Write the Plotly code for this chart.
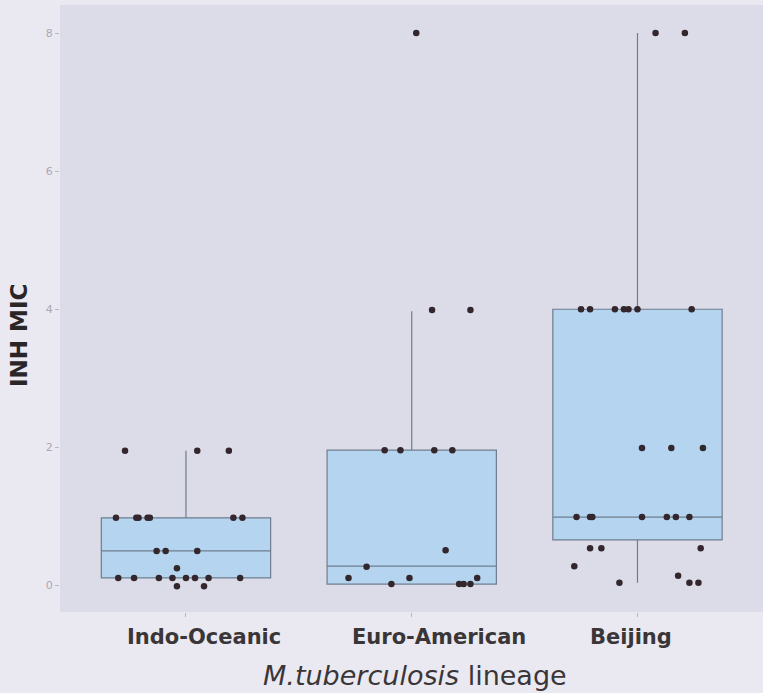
import plotly.graph_objects as go

# Lineages and their axis positions
lineages = ["Indo-Oceanic", "Euro-American", "Beijing"]
positions = [1, 2, 3]

# Box summary statistics of INH MIC per lineage
q1 = [0.11, 0.02, 0.66]
median = [0.50, 0.28, 0.99]
q3 = [0.98, 1.96, 4.00]
lower_fence = [0.11, 0.02, 0.04]
upper_fence = [1.95, 3.97, 8.00]

# Individual isolates: horizontal jitter offset and plotted MIC value
indo_dx = [-0.27, 0.05, 0.19,
           -0.31, -0.22, -0.21, -0.17, -0.16, 0.21, 0.25,
           -0.13, -0.09, 0.05,
           -0.04,
           -0.30, -0.23, -0.12, -0.06, 0.00, 0.04, 0.10, 0.24,
           -0.04, 0.08]
indo_mic = [1.95, 1.95, 1.95,
            0.98, 0.98, 0.98, 0.98, 0.98, 0.98, 0.98,
            0.50, 0.50, 0.50,
            0.25,
            0.11, 0.11, 0.11, 0.11, 0.11, 0.11, 0.11, 0.11,
            -0.01, -0.01]

euro_dx = [0.02,
           0.09, 0.26,
           -0.12, -0.05, 0.10, 0.18,
           0.15,
           -0.20,
           -0.28, -0.01, 0.29,
           -0.09, 0.21, 0.23, 0.26]
euro_mic = [8.00,
            3.99, 3.99,
            1.96, 1.96, 1.96, 1.96,
            0.51,
            0.27,
            0.11, 0.11, 0.11,
            0.02, 0.02, 0.02, 0.02]

beijing_dx = [0.08, 0.21,
              -0.25, -0.21, -0.10, -0.06, -0.04, 0.00, 0.24,
              0.02, 0.15, 0.29,
              -0.27, -0.21, -0.20, 0.02, 0.13, 0.17, 0.23,
              -0.21, -0.16, 0.28,
              -0.28,
              0.18,
              -0.08, 0.23, 0.27]
beijing_mic = [8.00, 8.00,
               4.00, 4.00, 4.00, 4.00, 4.00, 4.00, 4.00,
               1.99, 1.99, 1.99,
               0.99, 0.99, 0.99, 0.99, 0.99, 0.99, 0.99,
               0.54, 0.54, 0.54,
               0.28,
               0.14,
               0.04, 0.04, 0.04]

# Tick label centres (axis units)
label_x = [1.08, 2.12, 2.97]

y_ticks = [0, 2, 4, 6, 8]

PAGE_BG = "#eae9f1"
PANEL_BG = "#dcdce8"
BOX_FILL = "#b4d4ef"
BOX_LINE = "#6f7c8e"
DOT = "#33262c"

fig = go.Figure()

fig.add_trace(go.Box(
    x=positions,
    q1=q1, median=median, q3=q3,
    lowerfence=lower_fence, upperfence=upper_fence,
    width=0.75,
    whiskerwidth=0,
    fillcolor=BOX_FILL,
    line=dict(color=BOX_LINE, width=1.2),
    boxpoints=False,
    hoverinfo="skip",
    showlegend=False,
))

for pos, dx, mic in [(1, indo_dx, indo_mic), (2, euro_dx, euro_mic), (3, beijing_dx, beijing_mic)]:
    fig.add_trace(go.Scatter(
        x=[pos + d for d in dx],
        y=mic,
        mode="markers",
        marker=dict(color=DOT, size=6.5),
        showlegend=False,
    ))

for lx, name in zip(label_x, lineages):
    fig.add_annotation(
        x=lx, xref="x", y=-0.041, yref="paper",
        text=f"<b>{name}</b>", showarrow=False,
        xanchor="center", yanchor="middle",
        font=dict(family="DejaVu Sans", size=21, color="#3a3638"),
    )

fig.add_annotation(
    x=0.505, xref="paper", y=-0.104, yref="paper",
    text="<i>M.tuberculosis</i> lineage", showarrow=False,
    xanchor="center", yanchor="middle",
    font=dict(family="DejaVu Sans", size=27, color="#3a3638"),
)

fig.add_annotation(
    x=-0.058, xref="paper", y=0.455, yref="paper",
    text="<b>INH MIC</b>", showarrow=False, textangle=-90,
    xanchor="center", yanchor="middle",
    font=dict(family="DejaVu Sans", size=23, color="#2a2628"),
)

fig.update_xaxes(
    range=[0.442, 3.556],
    tickvals=positions,
    showticklabels=False,
    ticks="outside", ticklen=4, tickcolor="#b8b8c2", tickwidth=1,
    showgrid=False, zeroline=False, showline=False,
)
fig.update_yaxes(
    range=[-0.384, 8.406],
    tickvals=y_ticks,
    ticks="outside", ticklen=4, tickcolor="#b8b8c2", tickwidth=1,
    tickfont=dict(family="DejaVu Sans", size=11, color="#a9a8b4"),
    showgrid=False, zeroline=False, showline=False,
)

fig.update_layout(
    width=763, height=693,
    margin=dict(l=60, r=0, t=5, b=81),
    paper_bgcolor=PAGE_BG,
    plot_bgcolor=PANEL_BG,
    showlegend=False,
)

fig.write_html("out.html")
